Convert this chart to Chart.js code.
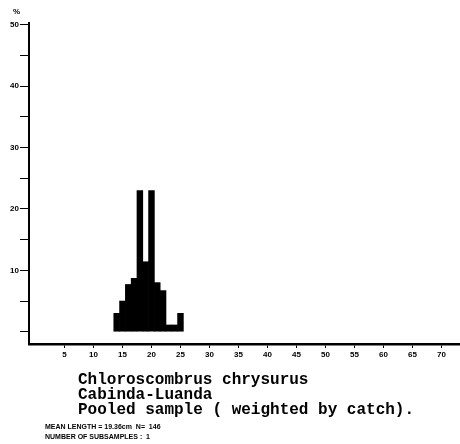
<!DOCTYPE html>
<html>
<head>
<meta charset="utf-8">
<script src="https://cdn.jsdelivr.net/npm/chart.js@4/dist/chart.umd.min.js"></script>
<style>
  body { margin: 0; background: #fff; }
  #wrap { position: relative; width: 460px; height: 444px; }
  #grafico { position: absolute; left: 0; top: 0; }
  .titulo { position: absolute; left: 78px; font: bold 16px "Liberation Mono", "DejaVu Sans Mono", monospace; line-height: 16px; color: #000; white-space: pre; }
  .nota { position: absolute; left: 45px; font: bold 7px "Liberation Sans", Arial, sans-serif; line-height: 7px; color: #000; white-space: pre; }
  #pct { position: absolute; left: 13px; top: 7px; font: bold 8px "Liberation Sans", Arial, sans-serif; }
</style>
</head>
<body>
<div id="wrap">
  <canvas id="grafico" width="460" height="444"></canvas>
  <div id="pct">%</div>
  <div class="titulo" style="top:372px">Chloroscombrus chrysurus</div>
  <div class="titulo" style="top:387px">Cabinda-Luanda</div>
  <div class="titulo" style="top:402px">Pooled sample ( weighted by catch).</div>
  <div class="nota" style="top:423px">MEAN LENGTH = 19.36cm  N=  146</div>
  <div class="nota" style="top:433px">NUMBER OF SUBSAMPLES :  1</div>
</div>
<script>
// Clases de talla (cm) y porcentaje
const tallas = [14, 15, 16, 17, 18, 19, 20, 21, 22, 23, 24, 25];
const porcentajes = [3, 5, 7.7, 8.7, 23, 11.4, 23, 8, 6.7, 1.1, 1.1, 3];

// Marcas de los ejes
const marcasX = [5, 10, 15, 20, 25, 30, 35, 40, 45, 50, 55, 60, 65, 70];
const marcasY = [10, 20, 30, 40, 50];

const fuenteEje = { family: 'Liberation Sans', size: 8, weight: 'bold' };

const ctx = document.getElementById('grafico').getContext('2d');

new Chart(ctx, {
    type: 'bar',
    data: {
        datasets: [{
            data: tallas.map((t, i) => ({ x: t, y: porcentajes[i] })),
            backgroundColor: '#000',
            borderWidth: 0,
            barPercentage: 1,
            categoryPercentage: 1
        }]
    },
    options: {
        responsive: false,
        animation: false,
        layout: { padding: { top: 23, left: 0, right: 0, bottom: 0 } },
        plugins: {
            legend: { display: false },
            tooltip: { enabled: false }
        },
        scales: {
            x: {
                type: 'linear',
                offset: false,
                min: -1.12,
                max: 73.2,
                afterFit: s => { s.height = 100; },
                border: { display: true, color: '#000', width: 2.5 },
                grid: {
                    offset: false,
                    drawOnChartArea: false,
                    drawTicks: true,
                    tickLength: 4,
                    tickColor: c => c.tick && marcasX.includes(c.tick.value) ? '#000' : 'rgba(0,0,0,0)'
                },
                ticks: {
                    stepSize: 5,
                    includeBounds: false,
                    autoSkip: false,
                    maxRotation: 0,
                    padding: 2,
                    color: '#000',
                    font: fuenteEje,
                    callback: v => marcasX.includes(v) ? String(v) : ''
                }
            },
            y: {
                min: -2,
                max: 50.3,
                afterFit: s => { s.width = 29; },
                border: { display: true, color: '#000', width: 2 },
                grid: {
                    drawOnChartArea: false,
                    drawTicks: true,
                    tickLength: 9,
                    tickColor: '#000'
                },
                ticks: {
                    stepSize: 5,
                    includeBounds: false,
                    autoSkip: false,
                    padding: 1,
                    color: '#000',
                    font: fuenteEje,
                    callback: v => marcasY.includes(v) ? String(v) : ''
                }
            }
        }
    }
});
</script>
</body>
</html>
